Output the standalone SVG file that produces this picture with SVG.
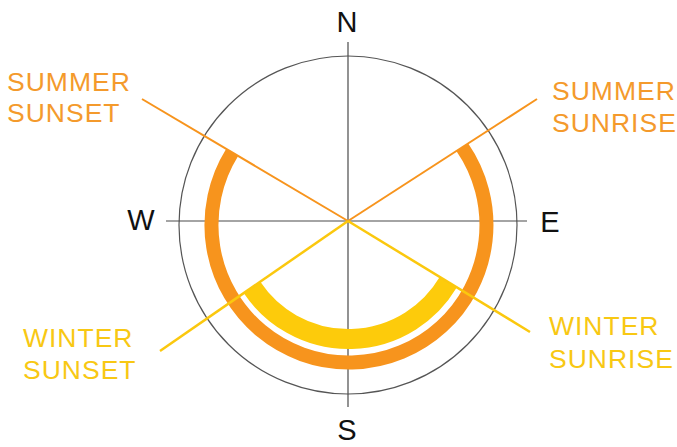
<svg xmlns="http://www.w3.org/2000/svg" width="677" height="447" viewBox="0 0 677 447">
  <style>
    .axis { stroke: #4a4a4a; stroke-width: 1.2; fill: none; }
    .ring { stroke: #555; stroke-width: 1.2; fill: none; }
    .dir { font-family: "Liberation Sans", Arial, sans-serif; font-size: 29px; fill: #111; }
    .lbl { font-family: "Liberation Sans", Arial, sans-serif; font-size: 26.5px; letter-spacing: 1px; }
    .sum { fill: #F49A2C; }
    .win { fill: #F8C813; }
    .sumline { stroke: #F7941D; stroke-width: 2; fill: none; }
    .winline { stroke: #FBC80E; stroke-width: 2.5; fill: none; }
  </style>
  <rect width="677" height="447" fill="#ffffff"/>
  <g id="compass">
    <circle class="ring" cx="348" cy="225" r="169"/>
    <line class="axis" x1="348" y1="42" x2="348" y2="407"/>
    <line class="axis" x1="166" y1="221" x2="527" y2="221"/>
    <text class="dir" x="347" y="32" text-anchor="middle">N</text>
    <text class="dir" x="141" y="230" text-anchor="middle">W</text>
    <text class="dir" x="550" y="232" text-anchor="middle">E</text>
    <text class="dir" x="347" y="440" text-anchor="middle">S</text>
  </g>
  <g id="summer-path">
    <path d="M 232.2 152.4 A 137.5 137.5 0 1 0 462.3 147.2" stroke="#F7941D" stroke-width="14" fill="none"/>
  </g>
  <g id="winter-path">
    <path d="M 252 287.4 A 116 116 0 0 0 448.3 282.2" stroke="#FDCB0B" stroke-width="20" fill="none"/>
  </g>
  <g id="connectors">
    <line class="sumline" x1="348" y1="221" x2="142" y2="99"/>
    <line class="sumline" x1="348" y1="221" x2="537" y2="99"/>
    <line class="winline" x1="348" y1="221" x2="160" y2="351"/>
    <line class="winline" x1="348" y1="221" x2="530" y2="332"/>
  </g>
  <g id="summer-sunset">
    <text class="lbl sum" x="7" y="91">SUMMER</text>
    <text class="lbl sum" x="7" y="122">SUNSET</text>
  </g>
  <g id="summer-sunrise">
    <text class="lbl sum" x="552" y="100">SUMMER</text>
    <text class="lbl sum" x="552" y="132">SUNRISE</text>
  </g>
  <g id="winter-sunset">
    <text class="lbl win" x="23" y="347">WINTER</text>
    <text class="lbl win" x="23" y="379">SUNSET</text>
  </g>
  <g id="winter-sunrise">
    <text class="lbl win" x="549" y="335">WINTER</text>
    <text class="lbl win" x="549" y="368">SUNRISE</text>
  </g>
</svg>
